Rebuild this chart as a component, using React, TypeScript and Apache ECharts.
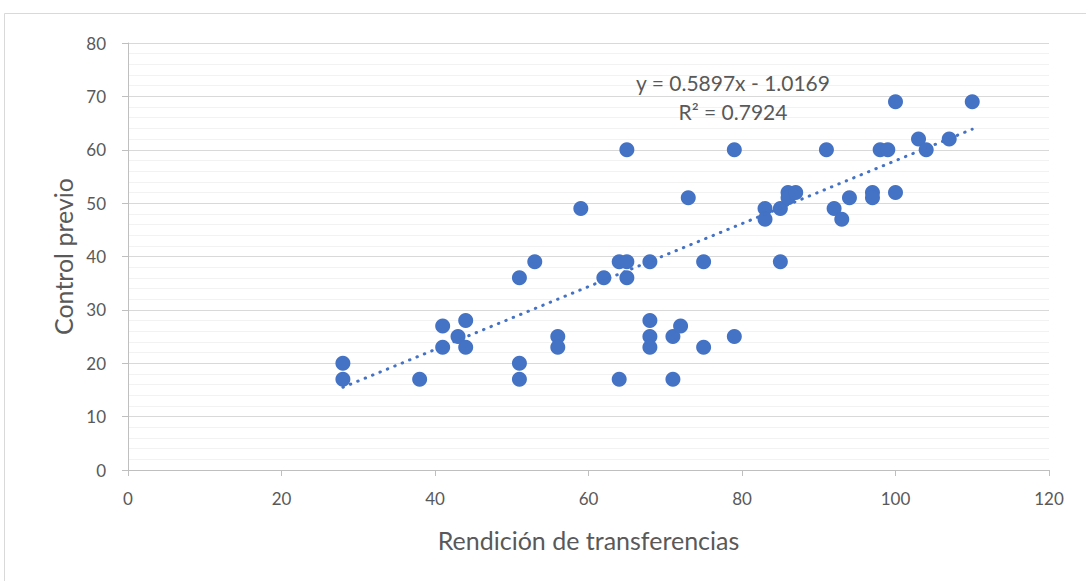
import React, { useEffect, useRef } from "react";
import * as echarts from "echarts";

const rendicion = [28, 28, 38, 41, 41, 43, 44, 44, 51, 51, 51, 53, 56, 56, 59, 62, 64, 64, 65, 65, 65, 68, 68, 68, 68, 71, 71, 72, 73, 75, 75, 79, 79, 83, 83, 85, 85, 86, 86, 87, 91, 92, 93, 94, 97, 97, 98, 99, 100, 100, 103, 104, 107, 110];
const controlPrevio = [20, 17, 17, 27, 23, 25, 28, 23, 36, 20, 17, 39, 25, 23, 49, 36, 39, 17, 60, 39, 36, 39, 28, 25, 23, 25, 17, 27, 51, 39, 23, 60, 25, 49, 47, 49, 39, 52, 51, 52, 60, 49, 47, 51, 52, 51, 60, 60, 69, 52, 62, 60, 62, 69];

const trendSlope = 0.5897;
const trendIntercept = -1.0169;
const trendR2 = 0.7924;

const xAxisTitle = "Rendición de transferencias";
const yAxisTitle = "Control previo";

const FONT = "Lato, 'Liberation Sans', sans-serif";
const BLUE = "#4472C4";

export default function App() {
  const ref = useRef<HTMLDivElement>(null);
  useEffect(() => {
    if (!ref.current) return;
    const chart = echarts.init(ref.current, null, { renderer: "svg" });
    const points = rendicion.map((x, i) => [x, controlPrevio[i]]);
    const xMin = Math.min(...rendicion);
    const xMax = Math.max(...rendicion);
    const trend = [
      [xMin, trendSlope * xMin + trendIntercept],
      [xMax, trendSlope * xMax + trendIntercept],
    ];
    const eqText = `y = ${trendSlope.toFixed(4)}x ${trendIntercept < 0 ? "-" : "+"} ${Math.abs(trendIntercept).toFixed(4)}`;
    const r2Text = `R² = ${trendR2.toFixed(4)}`;
    chart.setOption({
      animation: false,
      backgroundColor: "#ffffff",
      textStyle: { fontFamily: FONT },
      grid: { left: 128, right: 37, top: 43, bottom: 111 },
      graphic: [
        {
          type: "rect",
          shape: { x: 4.5, y: 13.5, width: 1200, height: 700 },
          style: { fill: "none", stroke: "#D9D9D9", lineWidth: 1 },
          silent: true,
          z: -10,
        },
        {
          type: "text",
          x: 733,
          y: 82,
          style: { text: eqText, fill: "#595959", font: `21px ${FONT}`, align: "center", verticalAlign: "middle" },
          z: 10,
        },
        {
          type: "text",
          x: 733,
          y: 111,
          style: { text: r2Text, fill: "#595959", font: `21px ${FONT}`, align: "center", verticalAlign: "middle" },
          z: 10,
        },
      ],
      xAxis: {
        type: "value",
        min: 0,
        max: 120,
        interval: 20,
        name: xAxisTitle,
        nameLocation: "middle",
        nameGap: 57,
        nameTextStyle: { color: "#595959", fontSize: 25, fontFamily: FONT },
        axisLine: { show: true, onZero: false, lineStyle: { color: "#BFBFBF", width: 1 } },
        axisTick: { show: true, length: 6, lineStyle: { color: "#BFBFBF" } },
        axisLabel: { color: "#595959", fontSize: 17, margin: 20, fontFamily: FONT },
        splitLine: { show: false },
      },
      yAxis: {
        type: "value",
        min: 0,
        max: 80,
        interval: 10,
        name: yAxisTitle,
        nameLocation: "middle",
        nameGap: 52,
        nameTextStyle: { color: "#595959", fontSize: 25, fontFamily: FONT },
        axisLine: { show: true, onZero: false, lineStyle: { color: "#BFBFBF", width: 1 } },
        axisTick: { show: true, length: 6, lineStyle: { color: "#BFBFBF" } },
        axisLabel: { color: "#595959", fontSize: 17, margin: 22, fontFamily: FONT },
        splitLine: { show: true, lineStyle: { color: "#D9D9D9", width: 1 } },
        minorTick: { show: false, splitNumber: 5 },
        minorSplitLine: { show: true, lineStyle: { color: "#F2F2F2", width: 1 } },
      },
      series: [
        {
          type: "scatter",
          data: points,
          symbol: "circle",
          symbolSize: 15,
          itemStyle: { color: BLUE, opacity: 1 },
          z: 2,
        },
        {
          type: "line",
          data: trend,
          showSymbol: false,
          symbol: "none",
          lineStyle: { color: BLUE, width: 3, type: [0.5, 7.5], cap: "round" },
          z: 3,
        },
      ],
    });
    return () => chart.dispose();
  }, []);
  return (
    <div
      ref={ref}
      style={{ position: "absolute", left: 0, top: 0, width: 1086, height: 581, background: "#fff" }}
    />
  );
}
